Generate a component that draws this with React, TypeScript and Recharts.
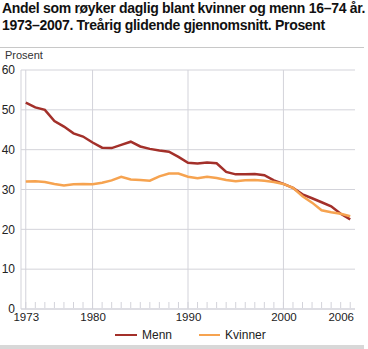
import React from "react";
import { CartesianGrid, Line, LineChart, ReferenceLine, XAxis, YAxis } from "recharts";

const years = [
  1973, 1974, 1975, 1976, 1977, 1978, 1979, 1980, 1981, 1982, 1983, 1984,
  1985, 1986, 1987, 1988, 1989, 1990, 1991, 1992, 1993, 1994, 1995, 1996,
  1997, 1998, 1999, 2000, 2001, 2002, 2003, 2004, 2005, 2006, 2007,
];

const menn = [
  51.8, 50.6, 50.0, 47.2, 45.8, 44.1, 43.3, 41.8, 40.5, 40.4, 41.2, 42.0,
  40.8, 40.2, 39.8, 39.5, 38.2, 36.7, 36.5, 36.8, 36.6, 34.4, 33.8, 33.8,
  33.9, 33.6, 32.3, 31.4, 30.4, 28.8, 27.8, 26.8, 25.8, 23.9, 22.5,
];

const kvinner = [
  32.0, 32.1, 31.9, 31.4, 31.0, 31.3, 31.4, 31.3, 31.7, 32.3, 33.2, 32.5,
  32.4, 32.2, 33.3, 34.0, 34.0, 33.2, 32.8, 33.2, 32.9, 32.4, 32.1, 32.3,
  32.4, 32.2, 31.9, 31.4, 30.4, 28.3, 26.7, 24.8, 24.3, 23.9, 23.3,
];

const yTicks = [0, 10, 20, 30, 40, 50, 60];
const xLabels = [1973, 1980, 1990, 2000, 2006];
const xGrid = [1973, 1980, 1990, 2000];

const data = years.map((y, i) => ({ year: y, menn: menn[i], kvinner: kvinner[i] }));

const FONT = "'Liberation Sans', Arial, sans-serif";
const GRID = "#d3d3da";
const MENN_COLOR = "#a3302a";
const KVINNER_COLOR = "#f6a350";

// minor year ticks point up from the axis, labels only on a few years
function YearTick(props: any) {
  const { x, y, payload } = props;
  const show = xLabels.includes(payload.value);
  return (
    <g>
      <line x1={x} x2={x} y1={y - 1} y2={y - 7} stroke={GRID} />
      {show && (
        <text x={x + 0.5} y={y + 12} textAnchor="middle" fontSize={11.5} fill="#222" fontFamily={FONT}>
          {payload.value}
        </text>
      )}
    </g>
  );
}

export default function App() {
  return (
    <div style={{ position: "absolute", left: 0, top: 0, width: 368, height: 349, background: "#fff", fontFamily: FONT }}>
      <div
        style={{
          position: "absolute",
          left: 2,
          top: 0,
          fontSize: 14,
          fontWeight: "bold",
          lineHeight: "17px",
          color: "#111",
          whiteSpace: "nowrap",
          letterSpacing: "-0.3px",
        }}
      >
        Andel som røyker daglig blant kvinner og menn 16–74 år.
        <br />
        1973–2007. Treårig glidende gjennomsnitt. Prosent
      </div>
      <div style={{ position: "absolute", left: 0, top: 47, width: 364, height: 1, background: "#c8c8c8" }} />
      <div style={{ position: "absolute", left: 5, top: 50, fontSize: 11, lineHeight: "11px", color: "#333" }}>Prosent</div>

      <div style={{ position: "absolute", left: 0, top: 0 }}>
        <LineChart width={368} height={349} data={data} margin={{ top: 70, right: 13, left: 0, bottom: 10 }}>
          <CartesianGrid vertical={false} stroke={GRID} />
          {xGrid.map((g) => (
            <ReferenceLine key={g} x={g} stroke={GRID} />
          ))}
          <XAxis
            dataKey="year"
            type="number"
            domain={[1972.5, 2007.5]}
            ticks={years}
            interval={0}
            height={30}
            tickSize={0}
            tickMargin={0}
            tickLine={false}
            axisLine={{ stroke: GRID }}
            tick={<YearTick />}
          />
          <YAxis
            domain={[0, 60]}
            ticks={yTicks}
            width={21}
            tickSize={0}
            tickMargin={6}
            tickLine={false}
            axisLine={{ stroke: GRID }}
            tick={{ fontSize: 12, fill: "#222", fontFamily: FONT }}
          />
          <Line dataKey="menn" stroke={MENN_COLOR} strokeWidth={2.5} dot={false} isAnimationActive={false} />
          <Line dataKey="kvinner" stroke={KVINNER_COLOR} strokeWidth={2.5} dot={false} isAnimationActive={false} />
        </LineChart>
      </div>

      <div style={{ position: "absolute", top: 328, left: 115, fontSize: 12, color: "#222", display: "flex", alignItems: "center" }}>
        <span style={{ display: "inline-block", width: 22, height: 2, background: MENN_COLOR, marginRight: 5 }} />
        <span>Menn</span>
        <span style={{ display: "inline-block", width: 21, height: 2, background: KVINNER_COLOR, marginLeft: 27, marginRight: 5 }} />
        <span>Kvinner</span>
      </div>
      <div style={{ position: "absolute", left: 0, top: 345, width: 364, height: 4, background: "#d8d8d8" }} />
    </div>
  );
}
